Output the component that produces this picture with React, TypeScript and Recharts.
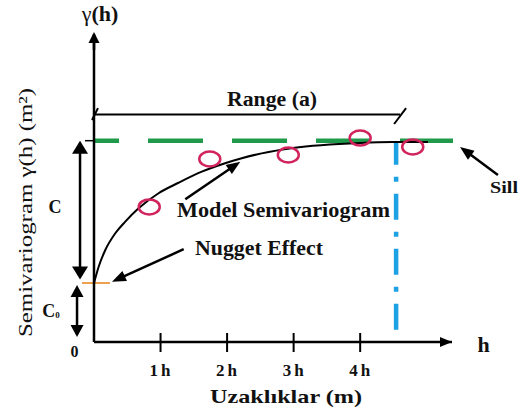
import React from "react"
import {
  ComposedChart,
  Line,
  Scatter,
  XAxis,
  YAxis,
  ReferenceLine,
  Customized,
} from "recharts"

// model curve (h units, sill = 1)
const curveX = [0, 0.07, 0.17, 0.32, 0.47, 0.67, 0.97, 1.27, 1.62, 1.97, 2.22, 2.52, 2.99, 4.0, 4.49, 5.02]
const curveY = [0.293, 0.374, 0.457, 0.54, 0.598, 0.664, 0.739, 0.791, 0.846, 0.888, 0.913, 0.937, 0.964, 0.989, 0.993, 0.993]

// experimental semivariogram points
const sampleX = [0.83, 1.74, 2.92, 4.0, 4.79]
const sampleY = [0.671, 0.909, 0.929, 1.013, 0.969]

const tickValues = [1, 2, 3, 4]
const tickLabels = ["1h", "2h", "3h", "4h"]

const SILL = 1
const NUGGET = 0.293
const RANGE = 4.54
const X_MAX = 5.38
const Y_MAX = 1.53

const curve = curveX.map((x, i) => ({ x, y: curveY[i] }))
const samples = sampleX.map((x, i) => ({ x, y: sampleY[i] }))

const FONT = "'Liberation Serif', 'Times New Roman', serif"
const GREEN = "#1f9a4a"
const BLUE = "#1ba1e4"
const PINK = "#d2245c"
const ORANGE = "#eea04e"

type Seg = { x1: number; y1: number; x2: number; y2: number }

function arrowShape(color: string, w: number, head: number, headW: number, both = false) {
  return (p: Seg) => {
    const { x1, y1, x2, y2 } = p
    const dx = x2 - x1
    const dy = y2 - y1
    const len = Math.hypot(dx, dy) || 1
    const ux = dx / len
    const uy = dy / len
    const nx = -uy
    const ny = ux
    const tri = (tx: number, ty: number, dir: number) => {
      const bx = tx - dir * ux * head
      const by = ty - dir * uy * head
      return `${tx},${ty} ${bx + (nx * headW) / 2},${by + (ny * headW) / 2} ${bx - (nx * headW) / 2},${by - (ny * headW) / 2}`
    }
    const sx = both ? x1 + ux * head * 0.8 : x1
    const sy = both ? y1 + uy * head * 0.8 : y1
    return (
      <g>
        <line x1={sx} y1={sy} x2={x2 - ux * head * 0.8} y2={y2 - uy * head * 0.8} stroke={color} strokeWidth={w} />
        <polygon points={tri(x2, y2, 1)} fill={color} />
        {both && <polygon points={tri(x1, y1, -1)} fill={color} />}
      </g>
    )
  }
}

function XTick(props: any) {
  const { x, y, payload } = props
  const i = tickValues.indexOf(payload.value)
  return (
    <g>
      <line x1={x} y1={y - 9} x2={x} y2={y + 10} stroke="#000" strokeWidth={2} />
      <text x={x + 1} y={y + 34} textAnchor="middle" fontFamily={FONT} fontWeight="bold" fontSize={17} letterSpacing={3} fill="#111">
        {tickLabels[i]}
      </text>
    </g>
  )
}

function YTick(props: any) {
  const { y } = props
  return (
    <text x={74.5} y={y + 15} textAnchor="middle" fontFamily={FONT} fontWeight="bold" fontSize={16} fill="#111">
      0
    </text>
  )
}

function Annotations() {
  const t = { fontFamily: FONT, fontWeight: "bold" as const, fill: "#111" }
  return (
    <g>
      <text x={100} y={21} textAnchor="middle" fontSize={22} {...t}>
        <tspan fontWeight="normal">γ</tspan>(h)
      </text>
      <text
        transform="translate(32,212.5) rotate(-90)"
        textAnchor="middle"
        fontFamily={FONT}
        fontSize={19}
        fill="#111"
        textLength={249}
        lengthAdjust="spacingAndGlyphs"
      >
        Semivariogram γ(h) (m²)
      </text>
      <text x={55} y={213} textAnchor="middle" fontSize={18} {...t}>C</text>
      <text x={51} y={317} textAnchor="middle" fontSize={18} {...t}>
        C<tspan fontSize={9} dy={1}>0</tspan>
      </text>
      <text x={272} y={106} textAnchor="middle" fontSize={20} textLength={90} lengthAdjust="spacingAndGlyphs" {...t}>
        Range (a)
      </text>
      <text x={177} y={217} fontSize={20} textLength={213} lengthAdjust="spacingAndGlyphs" {...t}>
        Model Semivariogram
      </text>
      <text x={195} y={255} fontSize={20} textLength={128} lengthAdjust="spacingAndGlyphs" {...t}>
        Nugget Effect
      </text>
      <text x={504} y={193} textAnchor="middle" fontSize={17} textLength={28} lengthAdjust="spacingAndGlyphs" {...t}>
        Sill
      </text>
      <text x={483.5} y={352} textAnchor="middle" fontSize={22} {...t}>h</text>
      <text x={286} y={403} textAnchor="middle" fontSize={19} textLength={152} lengthAdjust="spacingAndGlyphs" {...t}>
        Uzaklıklar (m)
      </text>
    </g>
  )
}

const seg = (x1: number, y1: number, x2: number, y2: number) => [
  { x: x1, y: y1 },
  { x: x2, y: y2 },
]

export default function App() {
  return (
    <div style={{ width: 519, height: 410, background: "#fff" }}>
      <style>{"body{margin:0}"}</style>
      <ComposedChart width={519} height={410} margin={{ top: 34, right: 67, bottom: 0, left: 0 }}>
        <XAxis
          type="number"
          dataKey="x"
          domain={[0, X_MAX]}
          ticks={tickValues}
          tick={XTick}
          tickLine={false}
          tickSize={0}
          tickMargin={0}
          height={68}
          axisLine={{ stroke: "#000", strokeWidth: 2.5 }}
          allowDataOverflow
        />
        <YAxis
          type="number"
          domain={[0, Y_MAX]}
          ticks={[0]}
          tick={YTick}
          tickLine={false}
          tickSize={0}
          tickMargin={0}
          width={94}
          axisLine={{ stroke: "#000", strokeWidth: 2.5 }}
          allowDataOverflow
        />

        {/* axis arrow heads */}
        <ReferenceLine segment={seg(0, 1.45, 0, 1.54)} ifOverflow="visible" shape={arrowShape("#000", 2.5, 11, 11)} />
        <ReferenceLine segment={seg(5.2, 0, X_MAX, 0)} ifOverflow="visible" shape={arrowShape("#000", 2.5, 12, 10)} />

        {/* sill and range */}
        <ReferenceLine
          segment={seg(0, SILL, 5.395, SILL)}
          ifOverflow="visible"
          stroke={GREEN}
          strokeWidth={4.5}
          strokeDasharray="55 29"
          strokeDashoffset={30}
        />
        <ReferenceLine
          segment={seg(RANGE, 0.99, RANGE, 0)}
          ifOverflow="visible"
          stroke={BLUE}
          strokeWidth={4.5}
          strokeDasharray="26 12 5 12"
          strokeDashoffset={4}
        />
        <ReferenceLine segment={seg(-0.135, SILL, 0, SILL)} ifOverflow="visible" stroke="#000" strokeWidth={1.5} />
        <ReferenceLine segment={seg(-0.18, NUGGET, 0.24, NUGGET)} ifOverflow="visible" stroke={ORANGE} strokeWidth={2} />

        {/* range bracket */}
        <ReferenceLine segment={seg(0, 1.13, 4.6, 1.13)} ifOverflow="visible" stroke="#000" strokeWidth={2} />
        <ReferenceLine segment={seg(-0.03, 1.103, 0.06, 1.162)} ifOverflow="visible" stroke="#000" strokeWidth={2} />
        <ReferenceLine segment={seg(4.51, 1.083, 4.69, 1.162)} ifOverflow="visible" stroke="#000" strokeWidth={2} />

        {/* C and C0 brackets */}
        <ReferenceLine segment={seg(-0.21, 1.0, -0.21, 0.31)} ifOverflow="visible" shape={arrowShape("#000", 2.5, 13, 16, true)} />
        <ReferenceLine segment={seg(-0.255, 0.283, -0.255, 0.025)} ifOverflow="visible" shape={arrowShape("#000", 2.5, 12, 13, true)} />

        {/* pointer arrows */}
        <ReferenceLine segment={seg(1.372, 0.709, 2.199, 0.896)} ifOverflow="visible" shape={arrowShape("#000", 2.5, 14, 11)} />
        <ReferenceLine segment={seg(1.348, 0.461, 0.27, 0.299)} ifOverflow="visible" shape={arrowShape("#000", 2.5, 14, 11)} />
        <ReferenceLine segment={seg(6.07, 0.83, 5.5, 0.969)} ifOverflow="visible" shape={arrowShape("#000", 2.5, 14, 11)} />

        <Line
          data={curve}
          dataKey="y"
          type="monotone"
          stroke="#000"
          strokeWidth={2}
          dot={false}
          isAnimationActive={false}
        />
        <Scatter
          data={samples}
          dataKey="y"
          isAnimationActive={false}
          shape={(p: any) => (
            <ellipse cx={p.cx} cy={p.cy} rx={10.5} ry={7.5} fill="none" stroke={PINK} strokeWidth={2.5} />
          )}
        />
        <Customized component={Annotations} />
      </ComposedChart>
    </div>
  )
}
